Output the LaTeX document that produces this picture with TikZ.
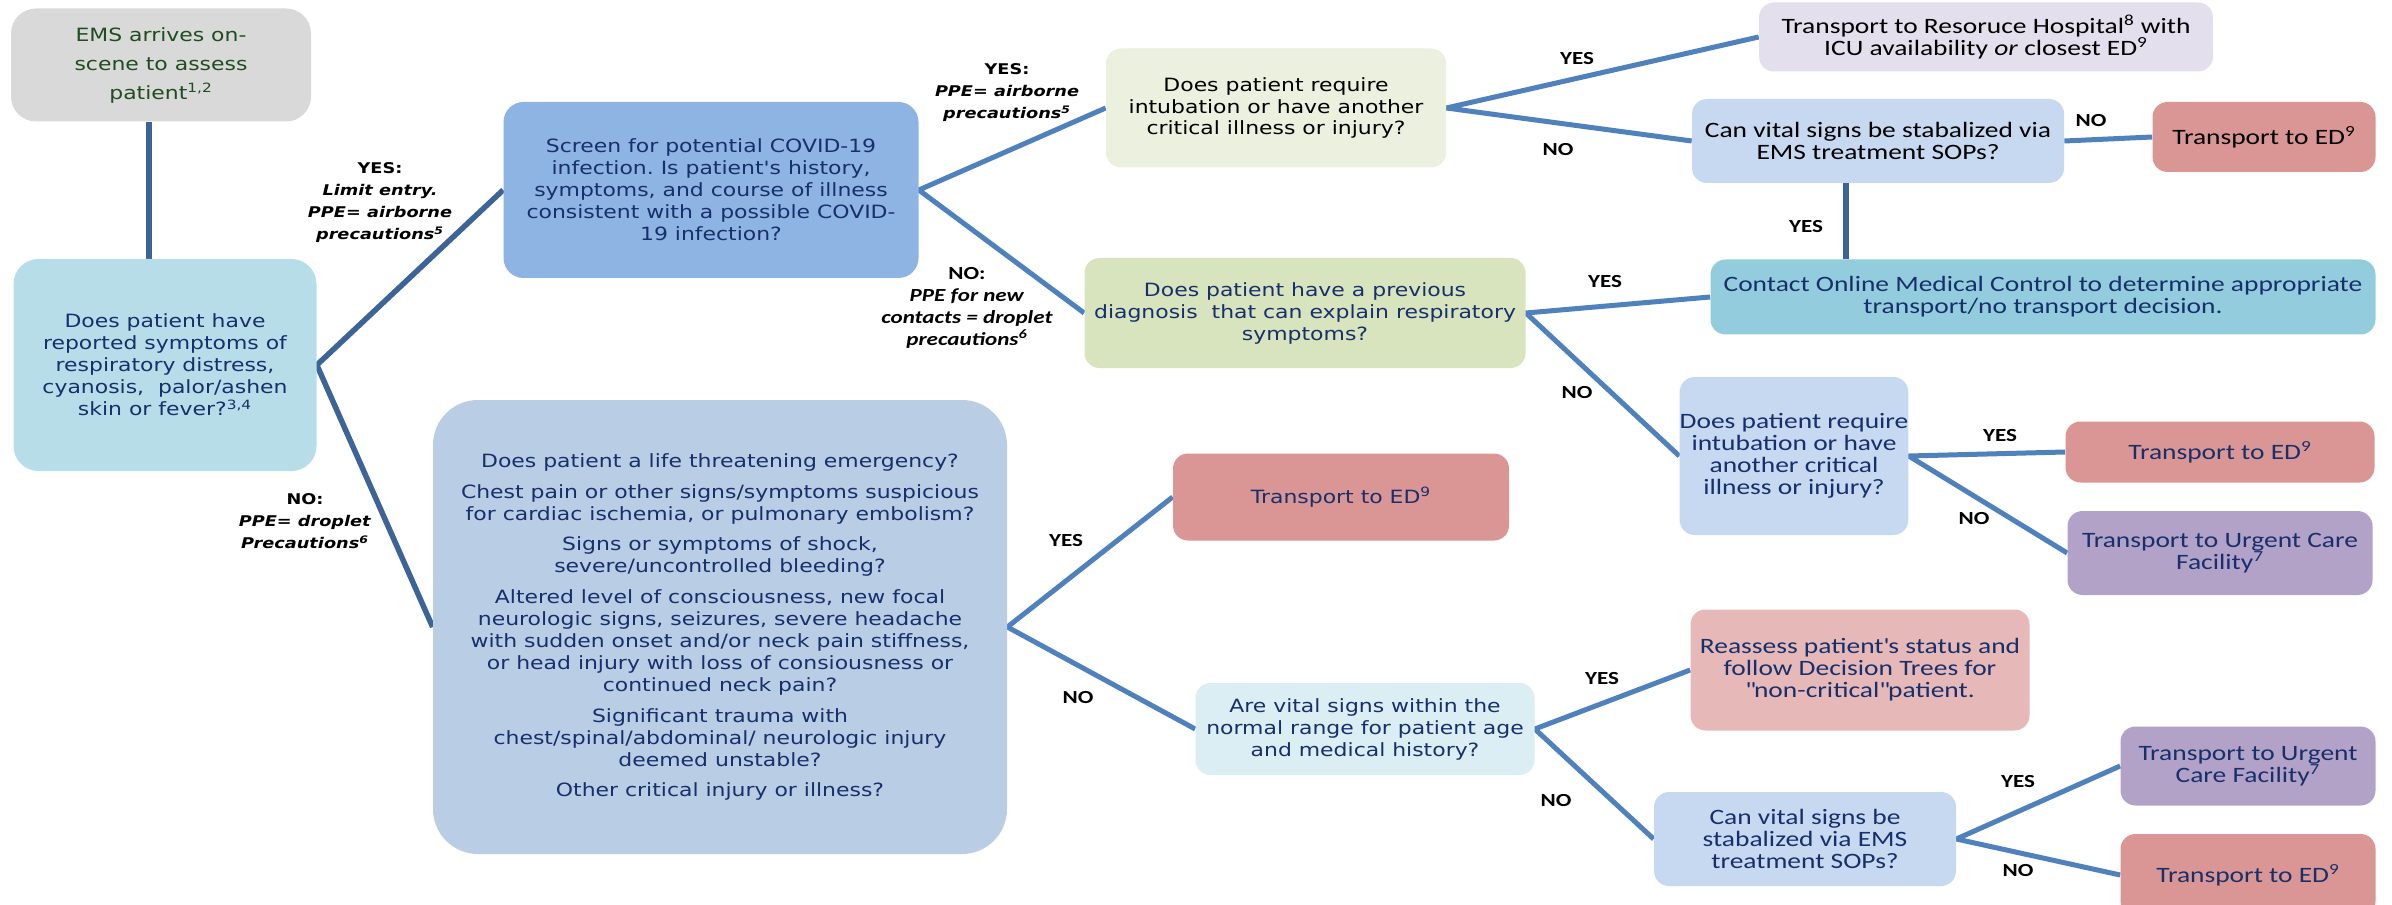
\documentclass[tikz,border=0pt]{standalone}
\usepackage{fontspec}
\setmainfont{Carlito}[FakeStretch=1.25]
\newfontfamily\verd{DejaVu Sans}[FakeStretch=1.2]
\usetikzlibrary{positioning, backgrounds}
\frenchspacing

\definecolor{emsgray}{HTML}{D9D9D9}
\definecolor{emsgreen}{HTML}{1E4D1E}
\definecolor{sympblue}{HTML}{B7DEE8}
\definecolor{screenblue}{HTML}{8EB4E3}
\definecolor{palegreen}{HTML}{EBF1DE}
\definecolor{lavender}{HTML}{E4DFEC}
\definecolor{paleblue}{HTML}{C6D9F1}
\definecolor{rose}{HTML}{DA9694}
\definecolor{teal}{HTML}{93CDDD}
\definecolor{sage}{HTML}{D7E4BD}
\definecolor{urgentpurple}{HTML}{B3A2C7}
\definecolor{bigblue}{HTML}{B9CDE5}
\definecolor{iceblue}{HTML}{DBEEF4}
\definecolor{pink}{HTML}{E6B9B8}
\definecolor{navy}{HTML}{17306B}
\definecolor{linkblue}{HTML}{4F81BD}
\definecolor{darkblue}{HTML}{3C6496}

\begin{document}
\begin{tikzpicture}[x=0.02cm, y=-0.02cm,
    box/.style={rounded corners=0.3cm, align=center, inner sep=0pt},
    vbox/.style={box, font=\verd\fontsize{10.4}{12.5}\selectfont, text=navy},
    cbox/.style={box, font=\fontsize{12.5}{12.5}\selectfont, text=navy},
    wh/.style 2 args={minimum width=#1*0.02cm, minimum height=#2*0.02cm},
    ans/.style={font=\bfseries\fontsize{10.5}{12}\selectfont},
    ppe/.style={align=center, font=\verd\bfseries\fontsize{8.4}{12.5}\selectfont},
    link/.style={draw=linkblue, line width=0.1cm},
    darklink/.style={draw=darkblue, line width=0.11cm}]
        \useasboundingbox (0,0) rectangle (2392,905);

        % Nodes
        \node[vbox, fill=emsgray, text=emsgreen, wh={300}{113}, rounded corners=0.5cm, font=\verd\fontsize{10.4}{16.5}\selectfont] (ems) at (161,65) {EMS arrives on-\\scene to assess\\patient\textsuperscript{1,2}};
        \node[vbox, fill=sympblue, wh={303}{212}, rounded corners=0.5cm] (symp) at (165,365) {Does patient have\\reported symptoms of\\respiratory distress,\\cyanosis,\ \ palor/ashen\\skin or fever?\textsuperscript{3,4}};
        \node[vbox, fill=screenblue, wh={415}{176}, rounded corners=0.4cm] (screen) at (711,190) {Screen for potential COVID-19\\infection. Is patient's history,\\symptoms, and course of illness\\consistent with a possible COVID-\\19 infection?};
        \node[vbox, fill=palegreen, text=black, wh={340}{119}] (intub1) at (1276,108) {Does patient require\\intubation or have another\\critical illness or injury?};
        \node[cbox, fill=lavender, text=black, wh={454}{69}] (resource) at (1986,37) {Transport to Resoruce Hospital\textsuperscript{8} with\\ICU availability \textit{or} closest ED\textsuperscript{9}};
        \node[cbox, fill=paleblue, text=black, wh={372}{84}] (canvs1) at (1878,141) {Can vital signs be stabalized via\\EMS treatment SOPs?};
        \node[cbox, fill=rose, text=black, wh={223}{70}] (ed1) at (2264,137) {Transport to ED\textsuperscript{9}};
        \node[cbox, fill=teal, wh={665}{75}] (contact) at (2043,297) {Contact Online Medical Control to determine appropriate\\transport/no transport decision.};
        \node[vbox, fill=sage, wh={441}{110}] (diag) at (1305,313) {Does patient have a previous\\diagnosis\ \ that can explain respiratory\\symptoms?};
        \node[cbox, fill=paleblue, wh={210}{158}] (intub2) at (1794,456) {Does patient require\\intubation or have\\another critical\\illness or injury?};
        \node[cbox, fill=rose, wh={309}{61}] (ed2) at (2220,452) {Transport to ED\textsuperscript{9}};
        \node[cbox, fill=urgentpurple, wh={305}{84}] (urgent1) at (2220,553) {Transport to Urgent Care\\Facility\textsuperscript{7}};
        \node[vbox, fill=bigblue, wh={574}{454}, rounded corners=0.9cm] (big) at (720,627) {Does patient a life threatening emergency?\\[5pt]
            Chest pain or other signs/symptoms suspicious\\for cardiac ischemia, or pulmonary embolism?\\[5pt]
            Signs or symptoms of shock,\\severe/uncontrolled bleeding?\\[5pt]
            Altered level of consciousness, new focal\\neurologic signs, seizures, severe headache\\with sudden onset and/or neck pain stiffness,\\or head injury with loss of consiousness or\\continued neck pain?\\[5pt]
            Significant trauma with\\chest/spinal/abdominal/ neurologic injury\\deemed unstable?\\[5pt]
            Other critical injury or illness?};
        \node[vbox, fill=rose, wh={336}{87}] (ed3) at (1341,497) {Transport to ED\textsuperscript{9}};
        \node[vbox, fill=iceblue, wh={339}{92}] (normal) at (1365,729) {Are vital signs within the\\normal range for patient age\\and medical history?};
        \node[cbox, fill=pink, wh={339}{121}] (reassess) at (1860,670) {Reassess patient\textquotesingle s status and\\follow Decision Trees for\\\textquotedbl non-critical\textquotedbl patient.};
        \node[cbox, fill=paleblue, wh={302}{94}] (canvs2) at (1805,839) {Can vital signs be\\stabalized via EMS\\treatment SOPs?};
        \node[cbox, fill=urgentpurple, wh={255}{79}] (urgent2) at (2248,766) {Transport to Urgent\\Care Facility\textsuperscript{7}};
        \node[cbox, fill=rose, wh={255}{82}] (ed4) at (2248,875) {Transport to ED\textsuperscript{9}};

        % Branch labels
        \node[ppe] (yesA) at (380,203) {YES:\\\textit{Limit entry.}\\\textit{PPE= airborne}\\\textit{precautions\textsuperscript{5}}};
        \node[ppe] (noA) at (305,521) {NO:\\\textit{PPE= droplet}\\\textit{Precautions\textsuperscript{6}}};
        \node[ppe] (yesB) at (1007,93) {YES:\\\textit{PPE= airborne}\\\textit{precautions\textsuperscript{5}}};
        \node[ppe, font=\bfseries\fontsize{10.5}{12.5}\selectfont] (noB) at (967,308) {NO:\\\textit{PPE for new}\\\textit{contacts = droplet}\\\textit{precautions\textsuperscript{6}}};
        \node[ans] (y1) at (1577,59) {YES};
        \node[ans] (n1) at (1558,150) {NO};
        \node[ans] (n2) at (2091,121) {NO};
        \node[ans] (y2) at (1806,227) {YES};
        \node[ans] (y3) at (1605,282) {YES};
        \node[ans] (n3) at (1577,393) {NO};
        \node[ans] (y4) at (2000,436) {YES};
        \node[ans] (n4) at (1974,519) {NO};
        \node[ans] (y5) at (1066,541) {YES};
        \node[ans] (n5) at (1078,698) {NO};
        \node[ans] (y6) at (1602,679) {YES};
        \node[ans] (n6) at (1556,801) {NO};
        \node[ans] (y7) at (2018,782) {YES};
        \node[ans] (n7) at (2018,871) {NO};

        % Edges
        \coordinate (emsfoot) at ([xshift=-0.24cm]ems.south);
        \coordinate (vsfoot) at ([xshift=-0.64cm]canvs1.south);
        \begin{scope}[on background layer]
        \fill[white] (0,0) rectangle (2392,905);
        \draw[darklink] (emsfoot) -- (emsfoot |- symp.north);
        \draw[darklink] (screen.west) -- (symp.east) -- (big.west);
        \draw[link] (intub1.west) -- (screen.east) -- (diag.west);
        \draw[link] (resource.west) -- (intub1.east) -- (canvs1.west);
        \draw[link] (canvs1.east) -- (ed1.west);
        \draw[darklink] (vsfoot) -- (vsfoot |- contact.north);
        \draw[link] (contact.west) -- (diag.east) -- (intub2.west);
        \draw[link] (ed2.west) -- (intub2.east) -- (urgent1.west);
        \draw[link] (ed3.west) -- (big.east) -- (normal.west);
        \draw[link] (reassess.west) -- (normal.east) -- (canvs2.west);
        \draw[link] (urgent2.west) -- (canvs2.east) -- (ed4.west);
        \end{scope}
\end{tikzpicture}
\end{document}
